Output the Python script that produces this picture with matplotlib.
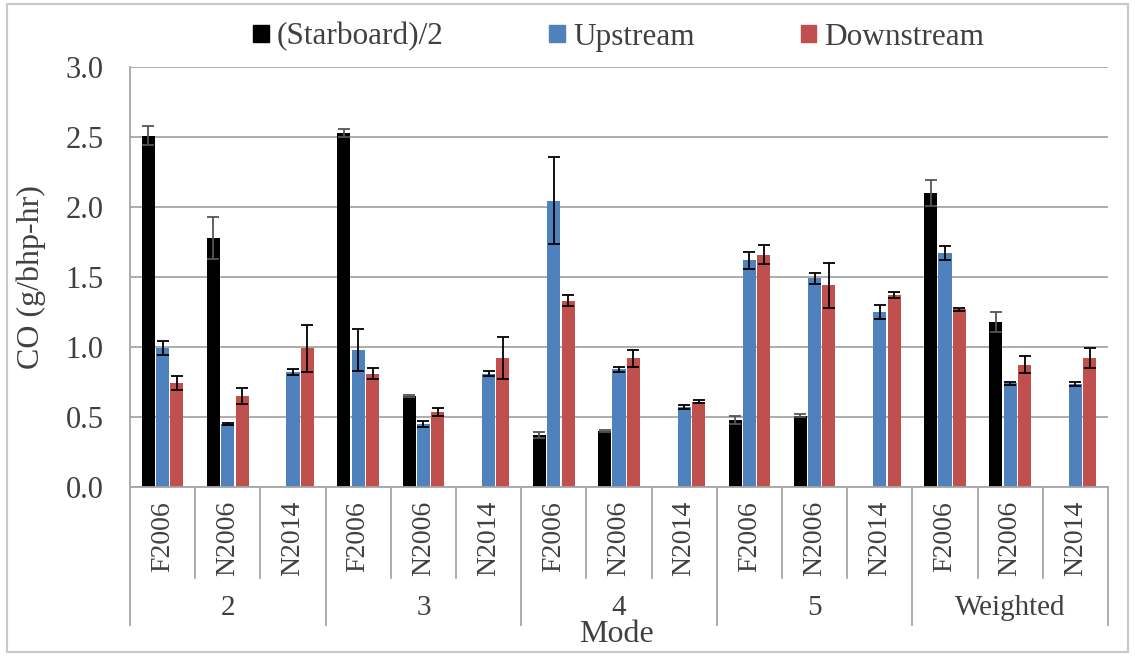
import numpy as np
import matplotlib
matplotlib.use("Agg")
import matplotlib.pyplot as plt
from matplotlib.patches import Rectangle, Patch

plt.rcParams['font.family'] = ['Liberation Serif', 'DejaVu Serif']

# data
modes = ['2', '3', '4', '5', 'Weighted']
engines = ['F2006', 'N2006', 'N2014']
nan = np.nan

starboard = [2.51, 1.78, nan, 2.53, 0.65, nan, 0.37, 0.40, nan, 0.48, 0.51, nan, 2.10, 1.18, nan]
starboard_err = [0.07, 0.15, nan, 0.03, 0.01, nan, 0.02, 0.005, nan, 0.03, 0.01, nan, 0.09, 0.07, nan]
upstream = [0.99, 0.45, 0.82, 0.98, 0.45, 0.81, 2.045, 0.84, 0.57, 1.62, 1.49, 1.25, 1.67, 0.74, 0.735]
upstream_err = [0.05, 0.01, 0.02, 0.15, 0.02, 0.02, 0.31, 0.02, 0.015, 0.06, 0.04, 0.05, 0.05, 0.01, 0.015]
downstream = [0.745, 0.65, 0.99, 0.81, 0.535, 0.92, 1.33, 0.92, 0.61, 1.66, 1.44, 1.37, 1.27, 0.875, 0.92]
downstream_err = [0.05, 0.06, 0.17, 0.04, 0.03, 0.15, 0.04, 0.06, 0.01, 0.07, 0.16, 0.02, 0.01, 0.06, 0.07]

series = ['(Starboard)/2', 'Upstream', 'Downstream']
colors = ['#000000', '#4F81BD', '#C0504D']
ecolors = ['#555555', '#000000', '#000000']

grey = '#A6A6A6'
txt = '#404040'

fig = plt.figure(figsize=(11.35, 6.56), dpi=100)
ax = fig.add_axes([130 / 1135, 169 / 656, 978 / 1135, 420 / 656])

cats = [e for m in modes for e in engines]
x = np.arange(len(cats))
w = 0.2
offs = [-0.22, 0.0, 0.22]

for vals, errs, c, ec, off, name in zip([starboard, upstream, downstream],
                                        [starboard_err, upstream_err, downstream_err],
                                        colors, ecolors, offs, series):
    v = np.array(vals, dtype=float)
    e = np.array(errs, dtype=float)
    ok = ~np.isnan(v)
    ax.bar(x[ok] + off, v[ok], w, color=c, zorder=2, label=name)
    ax.errorbar(x[ok] + off, v[ok], yerr=e[ok], fmt='none', ecolor=ec,
                elinewidth=1.3, capsize=4.5, capthick=1.3, zorder=3)

ax.set_xlim(-0.5, len(cats) - 0.5)
ax.set_ylim(0, 3.0)
ax.set_yticks(np.arange(0, 3.01, 0.5))
ax.set_yticklabels([f'{t:.1f}' for t in np.arange(0, 3.01, 0.5)])
ax.yaxis.grid(True, color=grey, lw=1.3, zorder=0)
ax.set_axisbelow(True)
for s in ['top', 'right']:
    ax.spines[s].set_visible(False)
for s in ['left', 'bottom']:
    ax.spines[s].set_color(grey)
    ax.spines[s].set_linewidth(1.3)

ax.tick_params(axis='y', length=0, pad=19, labelsize=22, labelcolor=txt)
ax.set_xticks(x)
ax.set_xticklabels(cats, rotation=90, fontsize=20, color=txt)
ax.tick_params(axis='x', length=0, pad=10)

ax.set_ylabel('CO (g/bhp-hr)', fontsize=23, color=txt)
ax.yaxis.set_label_coords(-0.086, 0.5)

# category separators
trans = ax.get_xaxis_transform()
for i in range(len(cats) + 1):
    L = 0.329 if i % 3 == 0 else 0.217
    ax.plot([i - 0.5, i - 0.5], [0, -L], transform=trans, clip_on=False,
            color=grey, lw=1.3)

# mode labels
for j, m in enumerate(modes):
    ax.text(3 * j + 1, -0.288, m, transform=trans, ha='center', va='center',
            fontsize=21, color=txt)

fig.text(617 / 1135, 1 - 634 / 656, 'Mode', ha='center', va='center',
         fontsize=23, color=txt)

handles = [Patch(color=c) for c in colors]
fig.legend(handles, series, loc='center', bbox_to_anchor=(0.545, 1 - 37 / 656),
           ncol=3, frameon=False, fontsize=22.5, handlelength=0.5, handleheight=0.5,
           handletextpad=0.25, columnspacing=3.4, labelcolor=txt)

fig.patches.append(Rectangle((0.006, 0.006), 0.988, 0.988, transform=fig.transFigure,
                             fill=False, edgecolor='#C8C8C8', lw=1.5))

fig.savefig('out.png', dpi=100)
